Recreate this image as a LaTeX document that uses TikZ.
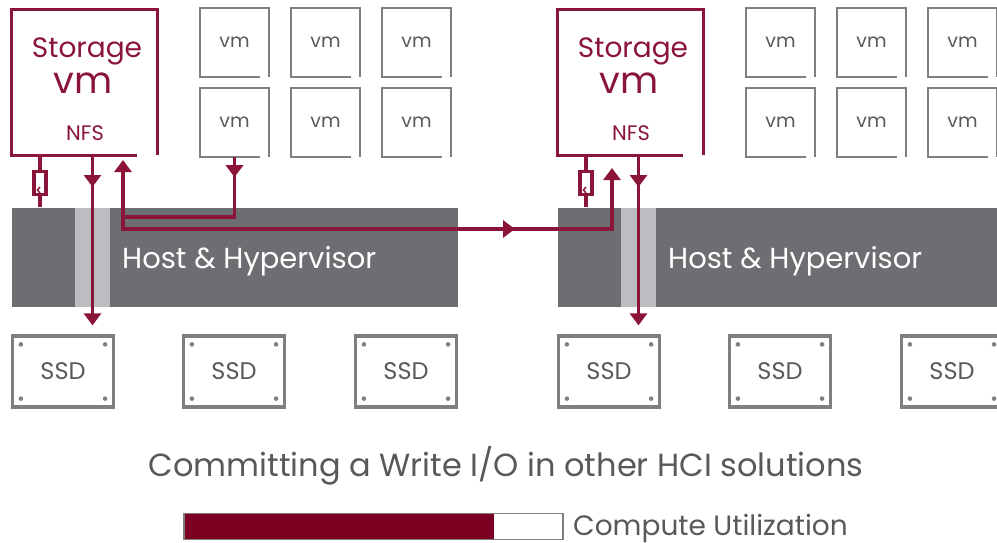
\documentclass[tikz,border=0pt]{standalone}
\usepackage{fontspec}
\setmainfont{Poppins}
\usetikzlibrary{arrows.meta,positioning,calc,decorations.markings}
\definecolor{hxWine}{HTML}{8A1538}
\definecolor{hxFill}{HTML}{7B0022}
\definecolor{hxDark}{HTML}{6D6E71}
\definecolor{hxLight}{HTML}{BCBDC0}
\definecolor{hxGrey}{HTML}{7F7F7F}
\definecolor{hxText}{HTML}{58595B}
\newcommand{\fsz}[1]{\fontsize{#1}{#1}\selectfont}

\begin{document}
\begin{tikzpicture}[x=1pt, y=-1pt,
  vmbox/.style={minimum width=69pt,minimum height=69pt,inner sep=0pt,text=hxText,font=\fsz{19}},
  stobox/.style={minimum width=145pt,minimum height=145pt,inner sep=0pt},
  stotxt/.style={text=hxWine,inner sep=0pt,anchor=base,font=\fsz{#1}},
  hostbar/.style={fill=hxDark,minimum width=446pt,minimum height=99pt,inner sep=0pt},
  stripe/.style={fill=hxLight,minimum width=35pt,minimum height=99pt,inner sep=0pt},
  ssd/.style={draw=hxGrey,line width=3.2pt,minimum width=101pt,minimum height=71pt,inner sep=0pt,text=hxText,font=\fsz{24}},
  latch/.style={draw=hxWine,fill=white,line width=3.2pt,minimum width=12pt,minimum height=23pt,inner sep=0pt},
  wire/.style={hxWine,line width=3.4pt},
  wtip/.tip={Triangle[width=17pt,length=12pt]},
  midtip/.style={postaction={decorate},decoration={markings,mark=at position #1 with {\arrow{wtip}}}}]
\useasboundingbox (0,0) rectangle (997,543);
\clip (0,0) rectangle (997,543);
\foreach \g/\dx in {L/0,R/546}{
  % host and hypervisor bar
  \node[hostbar] (host\g) at ({\dx+235},257) {};
  \node[stripe] (str\g) at ({\dx+92.5},257) {};
  \node[text=white,font=\fsz{29},anchor=base west,inner sep=0pt] (ht\g) at ({\dx+122},268) {Host \& Hypervisor};
  % storage vm
  \node[stobox] (sto\g) at ({\dx+84.5},82.5) {};
  \draw[hxWine,line width=3.2pt] ([xshift=-20pt]sto\g.south east) -- (sto\g.south west)
    -- (sto\g.north west) -- (sto\g.north east) -- (sto\g.south east);
  \node[stotxt=28] (stn\g) at ({\dx+87},58) {Storage};
  \node[stotxt=37] (stv\g) at ({\dx+83},93) {vm};
  \node[stotxt=21] (nfs\g) at ({\dx+85},140) {NFS};
  % guest vms
  \foreach \r in {0,1} \foreach \c in {0,1,2}{
    \node[vmbox] (vm\g\r\c) at ({\dx+234.5+91*\c},{42.5+80*\r}) {vm};
    \draw[hxGrey,line width=2.4pt] ([xshift=-9pt]vm\g\r\c.south east) -- (vm\g\r\c.south west)
      -- (vm\g\r\c.north west) -- (vm\g\r\c.north east) -- (vm\g\r\c.south east);
  }
  % disks
  \foreach \k/\sx in {0/63,1/234,2/406}{
    \node[ssd] (ssd\g\k) at ({\dx+\sx},371.5) {SSD};
    \foreach \ox/\oy/\an in {10/10/north west,-10/10/north east,10/-10/south west,-10/-10/south east}
      \fill[hxGrey] ([shift={(\ox,\oy)}]ssd\g\k.\an) circle (2.3);
  }
  % latch and write path to disk
  \node[latch] (lat\g) at ({\dx+40},183) {};
  \draw[hxWine,line width=1.5pt] ([yshift=-4pt]lat\g.center) -- ++(-2.5,3) -- ++(2.5,3);
  \draw[wire] (lat\g.north) -- (lat\g.north |- sto\g.south);
  \draw[wire] (lat\g.south) -- (lat\g.south |- host\g.north);
  \coordinate (dn\g) at ({\dx+92.5},155);
  \draw[wire,-wtip,midtip=32pt,shorten >=9pt] (dn\g) -- (dn\g |- ssd\g0.north);
}
% guest write and mirror to the second host
\coordinate (jn) at (123,217);
\coordinate (upL) at (123,160);
\coordinate (upR) at (612,168);
\draw[wire,-wtip,midtip=20pt] (vmL10.south) |- (jn) -- (upL);
\draw[wire,-wtip,midtip=404pt] (jn) -- ++(0,12) -| (upR);
% caption and utilisation bar
\node[text=hxText,font=\fsz{32},anchor=base,inner sep=0pt] (cap) at (506,476) {Committing a Write I/O in other HCI solutions};
\node[fill=hxFill,minimum width=311pt,minimum height=26pt,inner sep=0pt,anchor=west] (used) at (183,526.5) {};
\node[draw=hxGrey,line width=1.8pt,minimum width=379pt,minimum height=26pt,inner sep=0pt,anchor=west] (util) at (183,526.5) {};
\node[text=hxText,font=\fsz{28},anchor=base west,inner sep=0pt] (ulab) at (573,535) {Compute Utilization};
\end{tikzpicture}
\end{document}
